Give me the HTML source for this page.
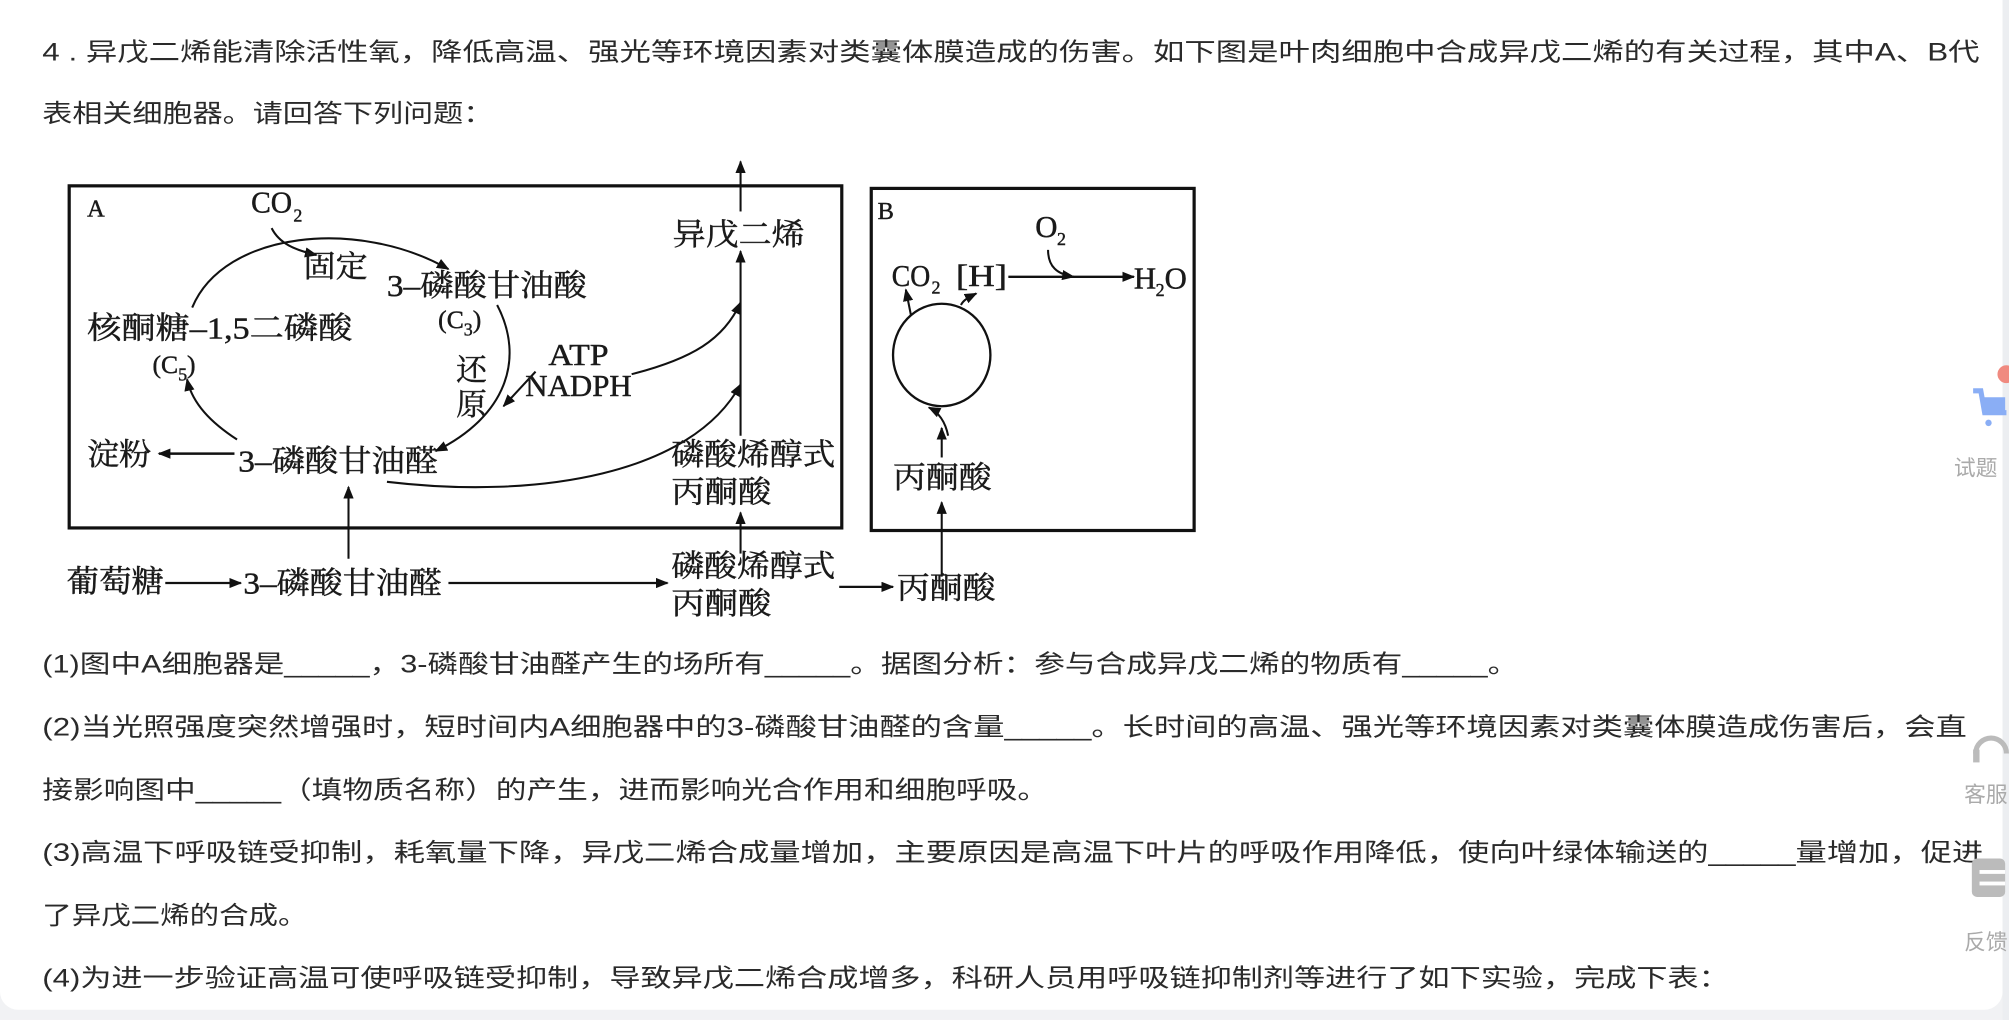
<!DOCTYPE html>
<html><head><meta charset="utf-8"><style>
html,body{margin:0;padding:0;background:#fff;}
svg{display:block;}
.t{font-family:"Liberation Sans","Noto Sans CJK SC",sans-serif;font-size:19.5px;fill:#2a2a2a;}
.d{font-family:"Liberation Serif","Noto Serif CJK SC",serif;font-size:24px;fill:#1a1a1a;stroke:#1a1a1a;stroke-width:0.35;}
.s{font-family:"Liberation Serif",serif;font-size:14px;fill:#1a1a1a;}
.g{font-family:"Liberation Sans","Noto Sans CJK SC",sans-serif;font-size:17px;fill:#aaa;}
</style></head><body>
<svg width="2009" height="1020" viewBox="0 0 1568 796" xmlns="http://www.w3.org/2000/svg">
<defs>
<marker id="a" markerWidth="10" markerHeight="8" refX="9" refY="4" orient="auto" markerUnits="userSpaceOnUse"><path d="M0,0 L10,4 L0,8 Z" fill="#111"/></marker>
</defs>
<rect x="0" y="0" width="1568" height="796" fill="#f1f2f4"/>
<rect x="0" y="-20" width="1563" height="808" rx="14" fill="#fff"/>

<text class="t" x="33" y="47" textLength="1512" lengthAdjust="spacingAndGlyphs">4 . 异戊二烯能清除活性氧，降低高温、强光等环境因素对类囊体膜造成的伤害。如下图是叶肉细胞中合成异戊二烯的有关过程，其中A、B代</text>
<text class="t" x="33" y="95" textLength="352" lengthAdjust="spacingAndGlyphs">表相关细胞器。请回答下列问题：</text>

<g stroke="#111" fill="none">
<rect x="54" y="145" width="603" height="267" stroke-width="2.5"/>
<rect x="680" y="147" width="252" height="267" stroke-width="2.5"/>
<path d="M150,240 C175,180 280,170 350,210" stroke-width="1.6" marker-end="url(#a)"/>
<path d="M212,178 C218,190 230,195 247,199" stroke-width="1.6" marker-end="url(#a)"/>
<path d="M388,238 C410,280 395,325 340,352" stroke-width="1.6" marker-end="url(#a)"/>
<path d="M418,290 L393,317" stroke-width="1.6" marker-end="url(#a)"/>
<path d="M185,343 C165,330 150,315 146,296" stroke-width="1.6" marker-end="url(#a)"/>
<path d="M183,354 L124,354" stroke-width="2" marker-end="url(#a)"/>
<path d="M493,292 C540,280 565,265 578,236" stroke-width="1.6" marker-end="url(#a)"/>
<path d="M302,376 C420,390 540,370 578,300" stroke-width="1.6" marker-end="url(#a)"/>
<path d="M578,340 L578,196" stroke-width="1.6" marker-end="url(#a)"/>
<path d="M578,165 L578,126" stroke-width="1.6" marker-end="url(#a)"/>
<path d="M578,432 L578,400" stroke-width="1.6" marker-end="url(#a)"/>
<path d="M272,436 L272,380" stroke-width="1.6" marker-end="url(#a)"/>
<path d="M129,455 L188,455" stroke-width="1.8" marker-end="url(#a)"/>
<path d="M350,455 L521,455" stroke-width="1.8" marker-end="url(#a)"/>
<path d="M655,458 L697,458" stroke-width="1.8" marker-end="url(#a)"/>
<ellipse cx="735" cy="277" rx="38" ry="40" stroke-width="1.8"/>
<path d="M711,246 L707,226" stroke-width="1.6" marker-end="url(#a)"/>
<path d="M750,238 C752,234 756,232 762,229" stroke-width="1.6" marker-end="url(#a)"/>
<path d="M787,216 L885,216" stroke-width="1.8" marker-end="url(#a)"/>
<path d="M818,195 C818,208 825,214 838,216" stroke-width="1.6" marker-end="url(#a)"/>
<path d="M740,340 C738,330 733,322 725,318" stroke-width="1.6" marker-end="url(#a)"/>
<path d="M735,357 L735,334" stroke-width="1.6" marker-end="url(#a)"/>
<path d="M735,450 L735,392" stroke-width="1.6" marker-end="url(#a)"/>
</g>
<g class="d">
<text x="68" y="169" font-size="19">A</text>
<text x="685" y="171" font-size="19">B</text>
<text x="196" y="166" textLength="32" lengthAdjust="spacingAndGlyphs">CO</text><text class="s" x="229" y="173">2</text>
<text x="237" y="216" textLength="50" lengthAdjust="spacingAndGlyphs">固定</text>
<text x="302" y="231" textLength="156" lengthAdjust="spacingAndGlyphs">3–磷酸甘油酸</text>
<text x="342" y="256" font-size="20">(C</text><text class="s" x="362" y="262">3</text><text x="369" y="256" font-size="20">)</text>
<text x="68" y="264" textLength="207" lengthAdjust="spacingAndGlyphs">核酮糖–1,5二磷酸</text>
<text x="119" y="291" font-size="20">(C</text><text class="s" x="139" y="297">5</text><text x="146" y="291" font-size="20">)</text>
<text x="356" y="297">还</text>
<text x="356" y="324">原</text>
<text x="428" y="285" textLength="47" lengthAdjust="spacingAndGlyphs">ATP</text>
<text x="410" y="309" textLength="83" lengthAdjust="spacingAndGlyphs">NADPH</text>
<text x="68" y="363" textLength="50" lengthAdjust="spacingAndGlyphs">淀粉</text>
<text x="186" y="368" textLength="156" lengthAdjust="spacingAndGlyphs">3–磷酸甘油醛</text>
<text x="525" y="191" textLength="103" lengthAdjust="spacingAndGlyphs">异戊二烯</text>
<text x="524" y="363" textLength="128" lengthAdjust="spacingAndGlyphs">磷酸烯醇式</text>
<text x="524" y="392" textLength="78" lengthAdjust="spacingAndGlyphs">丙酮酸</text>
<text x="52" y="462" textLength="76" lengthAdjust="spacingAndGlyphs">葡萄糖</text>
<text x="190" y="463" textLength="155" lengthAdjust="spacingAndGlyphs">3–磷酸甘油醛</text>
<text x="524" y="450" textLength="128" lengthAdjust="spacingAndGlyphs">磷酸烯醇式</text>
<text x="524" y="479" textLength="78" lengthAdjust="spacingAndGlyphs">丙酮酸</text>
<text x="700" y="467" textLength="77" lengthAdjust="spacingAndGlyphs">丙酮酸</text>
<text x="696" y="223" textLength="30" lengthAdjust="spacingAndGlyphs">CO</text><text class="s" x="727" y="229">2</text>
<text x="746" y="223" textLength="40" lengthAdjust="spacingAndGlyphs">[H]</text>
<text x="808" y="185">O</text><text class="s" x="825" y="191">2</text>
<text x="885" y="225">H</text><text class="s" x="902" y="231">2</text><text x="909" y="225">O</text>
<text x="697" y="381" textLength="77" lengthAdjust="spacingAndGlyphs">丙酮酸</text>
</g>

<text class="t" x="33" y="525" textLength="1152" lengthAdjust="spacingAndGlyphs">(1)图中A细胞器是_____，3-磷酸甘油醛产生的场所有_____。据图分析：参与合成异戊二烯的物质有_____。</text>
<text class="t" x="33" y="574" textLength="1502" lengthAdjust="spacingAndGlyphs">(2)当光照强度突然增强时，短时间内A细胞器中的3-磷酸甘油醛的含量_____。长时间的高温、强光等环境因素对类囊体膜造成伤害后，会直</text>
<text class="t" x="33" y="623" textLength="785" lengthAdjust="spacingAndGlyphs">接影响图中_____（填物质名称）的产生，进而影响光合作用和细胞呼吸。</text>
<text class="t" x="33" y="672" textLength="1515" lengthAdjust="spacingAndGlyphs">(3)高温下呼吸链受抑制，耗氧量下降，异戊二烯合成量增加，主要原因是高温下叶片的呼吸作用降低，使向叶绿体输送的_____量增加，促进</text>
<text class="t" x="33" y="721" textLength="207" lengthAdjust="spacingAndGlyphs">了异戊二烯的合成。</text>
<text class="t" x="33" y="770" textLength="1317" lengthAdjust="spacingAndGlyphs">(4)为进一步验证高温可使呼吸链受抑制，导致异戊二烯合成增多，科研人员用呼吸链抑制剂等进行了如下实验，完成下表：</text>

<rect x="1563" y="0" width="5" height="796" fill="#eceef1"/>
<circle cx="1566" cy="292" r="7" fill="#f08a80"/>
<path d="M1540,305 L1546,305 L1549,322 L1566,322" stroke="#8aaef5" stroke-width="4" fill="none"/>
<rect x="1547" y="310" width="18" height="12" fill="#8aaef5"/>
<circle cx="1552" cy="330" r="2.5" fill="#8aaef5"/>
<text class="g" x="1525" y="371">试题</text>
<path d="M1542,588 A12,12 0 0 1 1566,588" stroke="#bbb" stroke-width="4" fill="none"/>
<rect x="1540" y="585" width="5" height="10" fill="#bbb"/>
<text class="g" x="1533" y="626">客服</text>
<rect x="1539" y="670" width="26" height="30" rx="4" fill="#bbb"/>
<rect x="1545" y="679" width="20" height="3" fill="#fff"/>
<rect x="1545" y="688" width="20" height="3" fill="#fff"/>
<text class="g" x="1533" y="741">反馈</text>
</svg>
</body></html>
